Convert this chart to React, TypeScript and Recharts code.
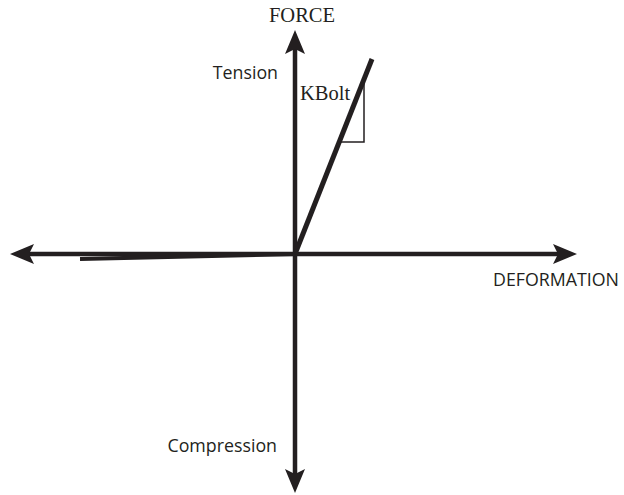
import React from 'react'
import { ComposedChart, Line, Scatter, XAxis, YAxis } from 'recharts'

// units: deformation / force, origin in the middle
const forceAxis = [{ x: 0, y: -4.5 }, { x: 0, y: 4.2 }]
const deformationAxis = [{ x: -5.4, y: 0 }, { x: 5.34, y: 0 }]
const boltLine = [{ x: 0, y: 0 }, { x: 1.54, y: 3.9 }]
const memberLine = [{ x: -4.3, y: -0.1 }, { x: 0, y: 0 }]
const slopeTriangle = [{ x: 0.88, y: 2.24 }, { x: 1.38, y: 2.24 }, { x: 1.38, y: 3.44 }]

const arrowTips = [
  { x: 0, y: 4.48, dir: 'up' },
  { x: 0, y: -4.78, dir: 'down' },
  { x: -5.7, y: 0, dir: 'left' },
  { x: 5.64, y: 0, dir: 'right' },
]

const labels = [
  { x: 0.14, y: 4.64, text: 'FORCE', serif: true, anchor: 'middle' },
  { x: -0.34, y: 3.5, text: 'Tension', serif: false, anchor: 'end' },
  { x: 0.1, y: 3.08, text: 'KBolt', serif: true, anchor: 'start' },
  { x: 3.96, y: -0.64, text: 'DEFORMATION', serif: false, anchor: 'start' },
  { x: -0.36, y: -3.96, text: 'Compression', serif: false, anchor: 'end' },
]

const ink = '#231f20'

const rot: Record<string, number> = { up: 0, right: 90, down: 180, left: 270 }

function ArrowHead(props: any) {
  const { cx, cy, payload } = props
  return (
    <path
      d="M0,0 L10,24 L0,19 L-10,24 Z"
      fill={ink}
      transform={`translate(${cx},${cy}) rotate(${rot[payload.dir]})`}
    />
  )
}

function TextMark(props: any) {
  const { cx, cy, payload } = props
  return (
    <text
      x={cx}
      y={cy}
      textAnchor={payload.anchor}
      fill={ink}
      fontSize={payload.serif ? 20.5 : 17.8}
      fontFamily={payload.serif ? '"Liberation Serif", serif' : '"Open Sans", sans-serif'}
    >
      {payload.text}
    </text>
  )
}

export default function App() {
  return (
    <div style={{ position: 'absolute', left: 0, top: 0, width: 624, height: 495, background: '#fff' }}>
      <ComposedChart width={624} height={495} margin={{ top: 0, right: 0, bottom: 0, left: 0 }}>
        <XAxis type="number" dataKey="x" domain={[-5.9, 6.58]} hide allowDataOverflow />
        <YAxis type="number" dataKey="y" domain={[-4.82, 5.08]} hide allowDataOverflow />
        <Line data={forceAxis} dataKey="y" stroke={ink} strokeWidth={4.5} dot={false} isAnimationActive={false} />
        <Line data={deformationAxis} dataKey="y" stroke={ink} strokeWidth={4.5} dot={false} isAnimationActive={false} />
        <Line data={memberLine} dataKey="y" stroke={ink} strokeWidth={4} dot={false} isAnimationActive={false} />
        <Line data={boltLine} dataKey="y" stroke={ink} strokeWidth={5} dot={false} isAnimationActive={false} />
        <Line data={slopeTriangle} dataKey="y" stroke={ink} strokeWidth={1.5} dot={false} isAnimationActive={false} />
        <Scatter data={arrowTips} dataKey="y" shape={<ArrowHead />} isAnimationActive={false} />
        <Scatter data={labels} dataKey="y" shape={<TextMark />} isAnimationActive={false} />
      </ComposedChart>
    </div>
  )
}
